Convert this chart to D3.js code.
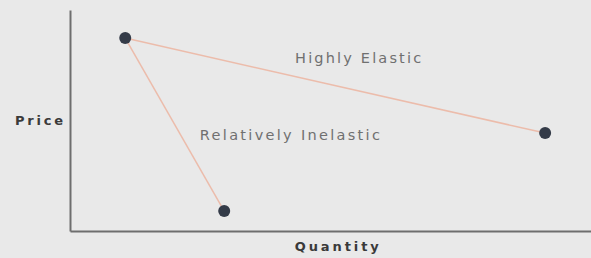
<!DOCTYPE html>
<html>
<head>
<meta charset="utf-8">
<script src="https://cdn.jsdelivr.net/npm/d3@7"></script>
<style>
  html, body { margin: 0; padding: 0; background: #e9e9e9; }
  svg { display: block; }
</style>
</head>
<body>
<div id="chart"></div>
<script>
// points on the demand curves (quantity, price)
let pointNames = ["start", "inelasticEnd", "elasticEnd"];
let quantity = [1.06, 2.96, 9.12];
let price = [8.73, 0.9, 4.43];
// lines: [from, to]
let curveLinks = [[0, 1], [0, 2]];
let curveLabels = ["Highly Elastic", "Relatively Inelastic"];
let labelQuantity = [5.53, 4.22];
let labelPrice = [7.8, 4.3];
let axisTitles = ["Quantity", "Price"];

let svgWidth = 591;
let svgHeight = 258;
let margin = {left: 70, right: 0, top: 10, bottom: 27};

let svg = d3.select("#chart")
    .append("svg")
    .attr("width", svgWidth)
    .attr("height", svgHeight);

let x = d3.scaleLinear().domain([0, 10]).range([margin.left, svgWidth - margin.right]);
let y = d3.scaleLinear().domain([0, 10]).range([svgHeight - margin.bottom, margin.top]);

// axes, no ticks
svg.append("g")
    .attr("transform", "translate(0," + y(0) + ")")
    .call(d3.axisBottom(x).ticks(0).tickSizeOuter(0))
    .call(g => g.select(".domain").attr("stroke", "#6e6e6e").attr("stroke-width", 2));
svg.append("g")
    .attr("transform", "translate(" + x(0) + ",0)")
    .call(d3.axisLeft(y).ticks(0).tickSizeOuter(0))
    .call(g => g.select(".domain").attr("stroke", "#6e6e6e").attr("stroke-width", 2));

// curves
svg.selectAll("line.curve")
    .data(curveLinks)
    .enter()
    .append("line")
    .attr("class", "curve")
    .attr("x1", d => x(quantity[d[0]]))
    .attr("y1", d => y(price[d[0]]))
    .attr("x2", d => x(quantity[d[1]]))
    .attr("y2", d => y(price[d[1]]))
    .attr("stroke", "#ecbcab")
    .attr("stroke-width", 1.5);

// points
svg.selectAll("circle.pt")
    .data(pointNames)
    .enter()
    .append("circle")
    .attr("class", "pt")
    .attr("cx", (d, i) => x(quantity[i]))
    .attr("cy", (d, i) => y(price[i]))
    .attr("r", 6)
    .attr("fill", "#343b48");

// curve labels (stretched wide like the reference)
let labelWidth = [126, 180];
svg.selectAll("text.lbl")
    .data(curveLabels)
    .enter()
    .append("text")
    .attr("class", "lbl")
    .attr("x", (d, i) => x(labelQuantity[i]))
    .attr("y", (d, i) => y(labelPrice[i]))
    .attr("text-anchor", "middle")
    .attr("dominant-baseline", "middle")
    .attr("textLength", (d, i) => labelWidth[i])
    .attr("lengthAdjust", "spacing")
    .attr("font-family", "'DejaVu Sans', sans-serif")
    .attr("font-size", 14.5)
    .attr("fill", "#707070")
    .text(d => d);

// axis titles
svg.append("text")
    .attr("x", x(5.12))
    .attr("y", 247)
    .attr("text-anchor", "middle")
    .attr("dominant-baseline", "middle")
    .attr("textLength", 84)
    .attr("lengthAdjust", "spacing")
    .attr("font-family", "'DejaVu Sans', sans-serif")
    .attr("font-weight", "bold")
    .attr("font-size", 13)
    .attr("fill", "#3a3a3a")
    .text(axisTitles[0]);
svg.append("text")
    .attr("x", 39)
    .attr("y", y(4.95))
    .attr("text-anchor", "middle")
    .attr("dominant-baseline", "middle")
    .attr("textLength", 48)
    .attr("lengthAdjust", "spacing")
    .attr("font-family", "'DejaVu Sans', sans-serif")
    .attr("font-weight", "bold")
    .attr("font-size", 13)
    .attr("fill", "#3a3a3a")
    .text(axisTitles[1]);
</script>
</body>
</html>
